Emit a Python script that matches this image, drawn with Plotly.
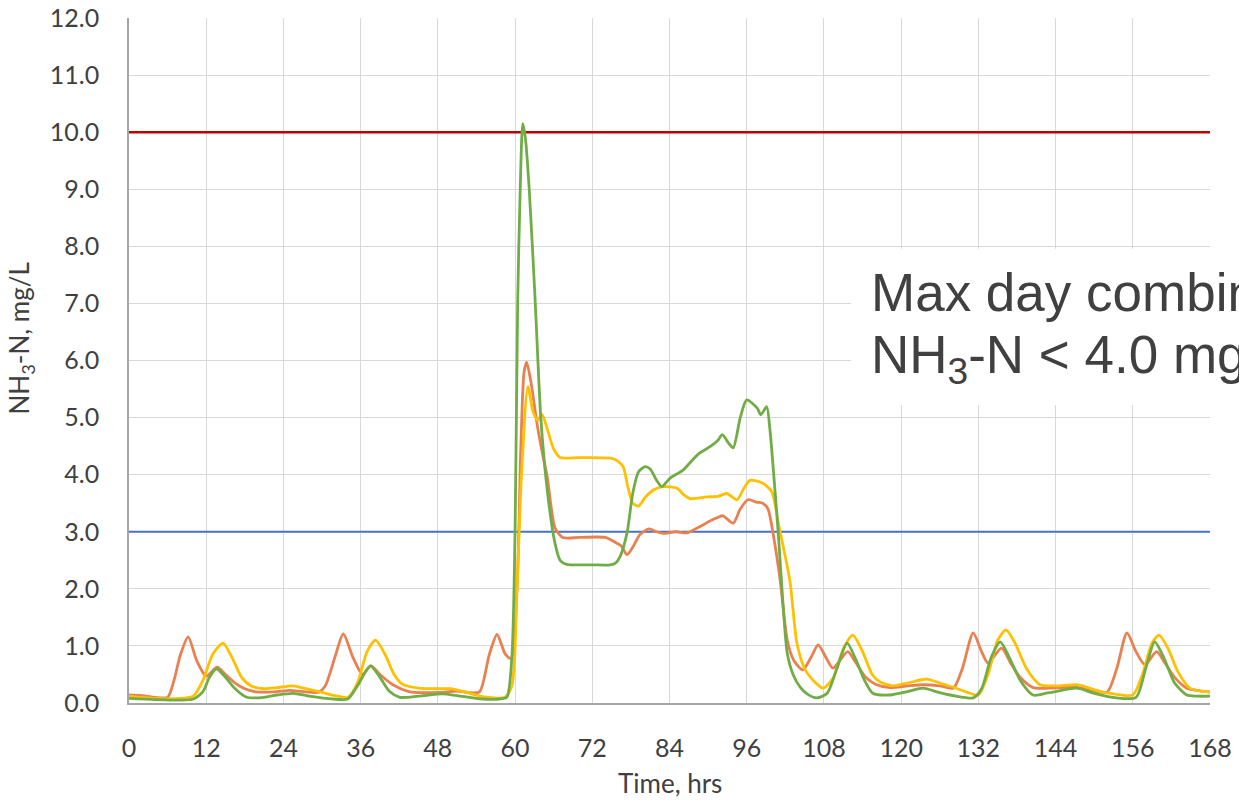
import plotly.graph_objects as go

# Hourly NH3-N readings over one week (hours, mg/L)
orange_hrs = [0, 2, 4, 6, 7, 8, 9.2, 10.5, 12, 13.7, 15, 16.5, 18, 19.5, 21, 23, 25, 27, 29.5,
              30.5, 32, 33.3, 34.8, 36.3, 37.6, 39, 41, 43.5, 46, 49, 51, 53, 54.5, 56, 57.2,
              58.5, 59.4, 60.3, 60.9, 61.4, 61.8, 62.5, 63.4, 64.2, 65, 66.2, 67.4, 70, 74,
              75.8, 76.5, 77.4, 78.4, 79.4, 80.8, 82, 83, 85, 86.7, 88, 89.2, 90.5, 91.5, 92.3,
              93.9, 95, 96.2, 97.5, 98.5, 99.3, 100.2, 101.2, 102.3, 103.3, 104.7, 106, 107.1,
              108.3, 109.4, 110.5, 111.7, 113, 114.5, 116, 118.3, 121, 123.4, 126, 128.1, 129.5,
              131.2, 132.5, 133.5, 135.6, 137, 138.5, 140.5, 143, 146.7, 149, 152, 153.5, 155.1,
              156.5, 157.9, 159.7, 161, 162.5, 164.4, 166, 168]
orange_val = [0.14, 0.13, 0.1, 0.1, 0.4, 0.85, 1.16, 0.75, 0.47, 0.63, 0.5, 0.35, 0.25, 0.2, 0.19, 0.2, 0.22, 0.2, 0.19,
              0.3, 0.8, 1.21, 0.8, 0.5, 0.65, 0.5, 0.32, 0.2, 0.18, 0.19, 0.21, 0.18, 0.2, 0.85, 1.2,
              0.85, 0.78, 2.0, 4.5, 5.8, 5.97, 5.6, 4.9, 4.4, 3.96, 3.07, 2.9, 2.9, 2.9,
              2.8, 2.75, 2.6, 2.75, 2.95, 3.05, 3.0, 2.97, 3.0, 2.98, 3.05, 3.12, 3.2, 3.25, 3.28,
              3.15, 3.4, 3.56, 3.52, 3.5, 3.4, 2.9, 2.15, 1.1, 0.75, 0.58, 0.8, 1.02,
              0.8, 0.61, 0.75, 0.9, 0.7, 0.45, 0.33, 0.27, 0.3, 0.32, 0.3, 0.26, 0.6,
              1.23, 0.9, 0.7, 0.96, 0.7, 0.45, 0.27, 0.26, 0.28, 0.24, 0.19, 0.6, 1.23,
              0.9, 0.67, 0.9, 0.7, 0.45, 0.26, 0.22, 0.19]

yellow_hrs = [0, 4, 8, 10, 11.5, 13, 14.6, 16, 17.5, 19, 21, 23, 25.5, 27.5, 29.5, 32, 34, 35.5, 37,
              38.3, 39.8, 41.2, 42.5, 45, 47.5, 50, 52, 55, 58.4, 59.5, 60.3, 61, 62, 62.8, 63.5,
              64.2, 65, 66, 67, 70, 74.8, 75.8, 76.8, 77.5, 78.3, 79.2, 80.2, 81.5, 83, 85.2,
              86.2, 87.2, 89.8, 91.5, 92.9, 94.5, 95.5, 96.5, 98.5, 99.9, 101, 102.7, 103.8, 105,
              106.3, 107.9, 109.5, 111, 112.5, 114, 115.5, 116.7, 118.7, 121, 124, 126, 128, 130,
              132, 133.5, 135, 136.3, 137.7, 139.5, 141.6, 144, 147.3, 149, 151, 153, 156, 157.5,
              159, 160.1, 161.5, 163, 164.9, 166.5, 168]
yellow_val = [0.12, 0.08, 0.08, 0.12, 0.4, 0.85, 1.05, 0.8, 0.45, 0.3, 0.25, 0.27, 0.3, 0.25, 0.2, 0.13, 0.1, 0.35, 0.9,
              1.1, 0.85, 0.5, 0.33, 0.26, 0.25, 0.25, 0.2, 0.11, 0.1, 0.3, 2.0, 4.0, 5.54, 5.1, 4.95,
              5.05, 4.8, 4.45, 4.3, 4.3, 4.29, 4.25, 4.14, 3.8, 3.5, 3.45, 3.6, 3.73, 3.79, 3.76,
              3.65, 3.58, 3.61, 3.62, 3.67, 3.56, 3.75, 3.9, 3.85, 3.7, 3.1, 2.15, 1.05, 0.6,
              0.4, 0.26, 0.45, 0.95, 1.19, 0.9, 0.5, 0.37, 0.3, 0.35, 0.42, 0.35, 0.28, 0.2,
              0.14, 0.5, 1.1, 1.28, 1.05, 0.6, 0.32, 0.3, 0.32, 0.27, 0.2, 0.16, 0.14, 0.5,
              1.05, 1.19, 0.95, 0.55, 0.26, 0.21, 0.2]

green_hrs = [0, 4, 8, 10, 11.5, 12.5, 13.6, 15, 16.5, 18.3, 21, 23, 25.5, 28, 31.7, 34, 35.5, 37.5,
             39, 40.5, 42.1, 45, 48.8, 51, 55, 57.5, 58.7, 59.5, 60, 60.4, 60.8, 61.2, 61.6, 62.2,
             63.1, 64, 65, 66.2, 67, 68, 72, 74.8, 75.6, 76.3, 77.4, 78.3, 79.2, 80.2, 81, 82,
             82.8, 84.1, 86.1, 87.5, 88.7, 90.3, 91.5, 92.2, 93.2, 93.9, 95, 96, 97.6, 98.2, 99.1,
             99.6, 100.1, 100.9, 101.6, 102.3, 103.2, 104.3, 105.5, 106.9, 108.5, 110, 111.6, 113,
             114.3, 115.6, 118.3, 121, 123.4, 126, 128.5, 131.2, 132.5, 134, 135.4, 136.8, 138.5,
             140.5, 143, 147.3, 150, 153.5, 156.5, 158, 159.4, 160.8, 162.5, 164.4, 166, 168]
green_val = [0.08, 0.06, 0.05, 0.07, 0.2, 0.45, 0.6, 0.45, 0.25, 0.1, 0.1, 0.14, 0.17, 0.12, 0.07, 0.07, 0.3, 0.65,
             0.45, 0.2, 0.1, 0.12, 0.16, 0.13, 0.07, 0.07, 0.1, 0.8, 3.0, 7.0, 9.0, 10.15, 9.9, 9.0,
             7.1, 5.0, 3.73, 2.8, 2.5, 2.43, 2.42, 2.42, 2.45, 2.56, 2.98, 3.68, 4.05, 4.14, 4.1, 3.9,
             3.79, 3.94, 4.08, 4.25, 4.38, 4.49, 4.6, 4.7, 4.55, 4.47, 5.0, 5.31, 5.17, 5.05, 5.19,
             4.8, 4.14, 2.98, 1.8, 0.87, 0.5, 0.28, 0.15, 0.09, 0.17, 0.6, 1.05, 0.75,
             0.4, 0.17, 0.14, 0.2, 0.26, 0.18, 0.12, 0.09, 0.25, 0.8, 1.07, 0.8, 0.4,
             0.14, 0.18, 0.26, 0.17, 0.09, 0.1, 0.6, 1.07, 0.8, 0.35, 0.14, 0.12, 0.12]

# Reference limits (mg/L)
limit_red = 10.0
limit_blue = 3.0

x_ticks = list(range(0, 169, 12))
y_ticks = [float(v) for v in range(0, 13)]

fig = go.Figure()

fig.add_trace(go.Scatter(x=[0, 168], y=[limit_red, limit_red], mode="lines",
                         line=dict(color="#C00000", width=2.5), hoverinfo="skip"))
fig.add_trace(go.Scatter(x=[0, 168], y=[limit_blue, limit_blue], mode="lines",
                         line=dict(color="#4472C4", width=2), hoverinfo="skip"))

for hrs, vals, col in [(orange_hrs, orange_val, "#E9804F"),
                       (yellow_hrs, yellow_val, "#FFC000"),
                       (green_hrs, green_val, "#70AD47")]:
    fig.add_trace(go.Scatter(x=hrs, y=vals, mode="lines",
                             line=dict(color=col, width=2.8, shape="spline", smoothing=0.7)))

tick_font = dict(family="Lato", size=25, color="#404040")
title_font = dict(family="Lato", size=26, color="#404040")

fig.update_layout(
    width=1239, height=801,
    margin=dict(l=129, r=29, t=18, b=98),
    paper_bgcolor="white", plot_bgcolor="white",
    showlegend=False,
    xaxis=dict(range=[0, 168], tickvals=x_ticks, ticktext=[str(v) for v in x_ticks],
               showgrid=True, gridcolor="#D9D9D9", gridwidth=1,
               showline=True, linecolor="#A6A6A6", linewidth=1.5, automargin=False,
               zeroline=False, ticks="", tickfont=tick_font, ticklabelstandoff=22),
    yaxis=dict(range=[0, 12], tickvals=y_ticks, ticktext=[f"{v:.1f}" for v in y_ticks],
               showgrid=True, gridcolor="#D9D9D9", gridwidth=1,
               showline=True, linecolor="#A6A6A6", linewidth=1.5, automargin=False,
               zeroline=False, ticks="", tickfont=tick_font, ticklabelstandoff=23),
)

# Axis titles
fig.add_annotation(xref="paper", yref="paper", x=0.5, y=-0.117, xanchor="center", yanchor="middle",
                   text="Time, hrs", showarrow=False, font=title_font)
fig.add_annotation(xref="paper", yref="paper", x=-0.1, y=0.532, xanchor="center", yanchor="middle",
                   text="NH<sub>3</sub>-N, mg/L", showarrow=False, font=title_font, textangle=-90)

# White panel behind the note
fig.add_shape(type="rect", xref="paper", yref="paper",
              x0=0.668, x1=1.2, y0=0.435, y1=0.663,
              fillcolor="white", line=dict(width=0), layer="above")

note_font = dict(family="Liberation Sans", size=53, color="#404040")
fig.add_annotation(xref="paper", yref="paper", x=0.685, y=0.645, xanchor="left", yanchor="top",
                   text="Max day combined", showarrow=False, font=note_font, align="left")
fig.add_annotation(xref="paper", yref="paper", x=0.685, y=0.555, xanchor="left", yanchor="top",
                   text="NH<sub>3</sub>-N < 4.0 mg/L", showarrow=False, font=note_font, align="left")

fig.write_html("out.html")
